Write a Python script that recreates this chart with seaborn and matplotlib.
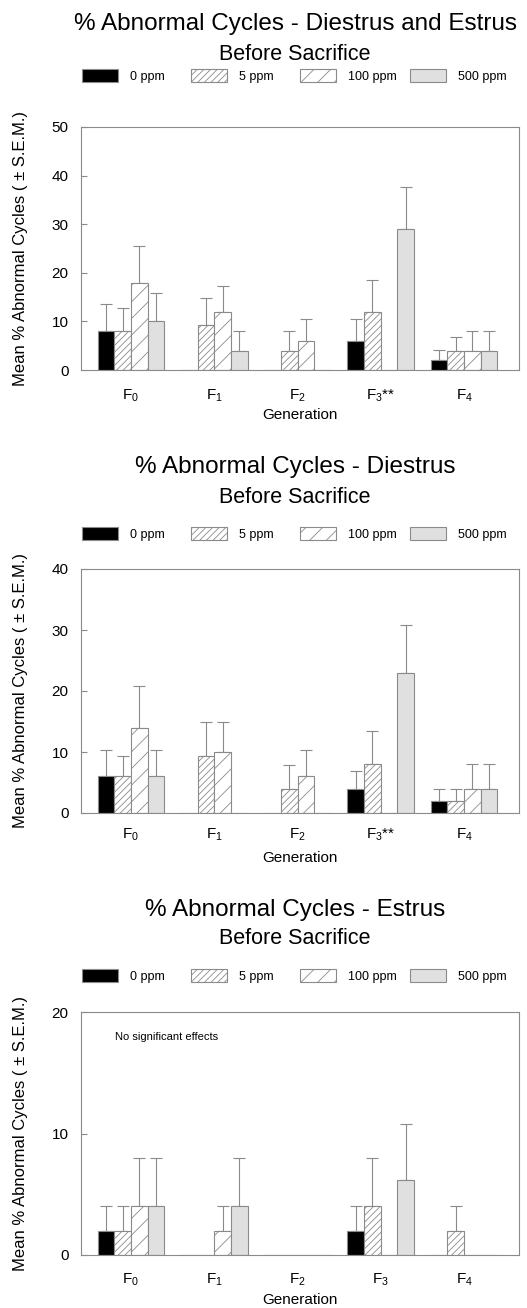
import numpy as np
import pandas as pd
import matplotlib
matplotlib.use("Agg")
import matplotlib.pyplot as plt
import seaborn as sns

# ---------------- data ----------------
generations = ["F0", "F1", "F2", "F3", "F4"]
doses = ["0 ppm", "5 ppm", "100 ppm", "500 ppm"]

# Panel 1: Diestrus and Estrus
p1_mean = {
    "0 ppm":   [8.0, 0.0, 0.0, 6.0, 2.0],
    "5 ppm":   [8.0, 9.3, 4.0, 12.0, 4.0],
    "100 ppm": [18.0, 12.0, 6.0, 0.0, 4.0],
    "500 ppm": [10.0, 4.0, 0.0, 29.1, 4.0],
}
p1_top = {
    "0 ppm":   [13.6, 0.0, 0.0, 10.4, 4.1],
    "5 ppm":   [12.7, 14.9, 8.0, 18.6, 6.8],
    "100 ppm": [25.6, 17.3, 10.4, 0.0, 8.0],
    "500 ppm": [15.8, 8.0, 0.0, 37.7, 8.0],
}
# Panel 2: Diestrus
p2_mean = {
    "0 ppm":   [6.0, 0.0, 0.0, 4.0, 2.0],
    "5 ppm":   [6.0, 9.4, 4.0, 8.0, 2.0],
    "100 ppm": [14.0, 10.0, 6.0, 0.0, 4.0],
    "500 ppm": [6.0, 0.0, 0.0, 22.9, 4.0],
}
p2_top = {
    "0 ppm":   [10.4, 0.0, 0.0, 6.85, 4.0],
    "5 ppm":   [9.3, 15.0, 7.9, 13.5, 4.0],
    "100 ppm": [20.8, 15.0, 10.4, 0.0, 8.0],
    "500 ppm": [10.4, 0.0, 0.0, 30.85, 8.0],
}
# Panel 3: Estrus
p3_mean = {
    "0 ppm":   [2.0, 0.0, 0.0, 2.0, 0.0],
    "5 ppm":   [2.0, 0.0, 0.0, 4.0, 2.0],
    "100 ppm": [4.0, 2.0, 0.0, 0.0, 0.0],
    "500 ppm": [4.0, 4.0, 0.0, 6.2, 0.0],
}
p3_top = {
    "0 ppm":   [4.0, 0.0, 0.0, 4.0, 0.0],
    "5 ppm":   [4.0, 0.0, 0.0, 8.0, 4.0],
    "100 ppm": [8.0, 4.0, 0.0, 0.0, 0.0],
    "500 ppm": [8.0, 8.0, 0.0, 10.8, 0.0],
}

titles = ["% Abnormal Cycles - Diestrus and Estrus",
          "% Abnormal Cycles - Diestrus",
          "% Abnormal Cycles - Estrus"]
subtitle = "Before Sacrifice"
tick_labels_sig = ["F$_0$", "F$_1$", "F$_2$", "F$_3$**", "F$_4$"]
tick_labels_ns = ["F$_0$", "F$_1$", "F$_2$", "F$_3$", "F$_4$"]
ylabel = "Mean % Abnormal Cycles ( \u00b1 S.E.M.)"
xlabel = "Generation"
y_max = [50, 40, 20]
y_ticks = [[0, 10, 20, 30, 40, 50], [0, 10, 20, 30, 40], [0, 10, 20]]

# ---------------- style ----------------
sns.set_theme(style="white")
plt.rcParams["font.family"] = ["Liberation Sans", "DejaVu Sans"]
plt.rcParams["mathtext.fontset"] = "custom"
plt.rcParams["mathtext.rm"] = "Liberation Sans"
plt.rcParams["mathtext.it"] = "Liberation Sans"
plt.rcParams["mathtext.bf"] = "Liberation Sans"
plt.rcParams["hatch.linewidth"] = 0.6
plt.rcParams["hatch.color"] = "#7a7a7a"
plt.rcParams["text.color"] = "black"
plt.rcParams["axes.labelcolor"] = "black"
plt.rcParams["xtick.color"] = "black"
plt.rcParams["ytick.color"] = "black"
plt.rcParams["xtick.labelcolor"] = "black"
plt.rcParams["ytick.labelcolor"] = "black"

GRAY = "#8a8a8a"
palette = {"0 ppm": "black", "5 ppm": "white", "100 ppm": "white", "500 ppm": "#e0e0e0"}
hatches = {"0 ppm": "", "5 ppm": "/////", "100 ppm": "//", "500 ppm": ""}

W, H = 527, 1308
fig = plt.figure(figsize=(W / 100, H / 100), dpi=100)

# pixel geometry of the three panels
ax_left, ax_right = 81, 519
panel_top = [127, 569, 1012]
panel_bot = [370, 813, 1255]
title_y = [24, 467, 910]
sub_y = [55, 497, 939]
legend_y = [76, 534, 976]
legend_x = [82, 191, 300, 410]
xtick_pad = [13, 10, 12]

means = [p1_mean, p2_mean, p3_mean]
tops = [p1_top, p2_top, p3_top]
xticklabels = [tick_labels_sig, tick_labels_sig, tick_labels_ns]

for k in range(3):
    rect = [ax_left / W, 1 - panel_bot[k] / H,
            (ax_right - ax_left) / W, (panel_bot[k] - panel_top[k]) / H]
    ax = fig.add_axes(rect)

    rows = []
    for d in doses:
        for g, v in zip(generations, means[k][d]):
            rows.append({"Generation": g, "Dose": d, "Value": v})
    df = pd.DataFrame(rows)

    sns.barplot(data=df, x="Generation", y="Value", hue="Dose",
                order=generations, hue_order=doses, palette=palette,
                saturation=1, errorbar=None, width=0.8, legend=False, ax=ax)

    handles = []
    for d, cont in zip(doses, ax.containers):
        for p in cont.patches:
            p.set_edgecolor(GRAY)
            p.set_linewidth(0.8)
            p.set_hatch(hatches[d])
            p.set_zorder(2)
        handles.append(cont.patches[0])
        xs, ms, es = [], [], []
        for p, m, t in zip(cont.patches, means[k][d], tops[k][d]):
            if t > m:
                xs.append(p.get_x() + p.get_width() / 2)
                ms.append(m)
                es.append(t - m)
        if xs:
            ax.errorbar(xs, ms, yerr=[np.zeros(len(es)), es], fmt="none",
                        ecolor=GRAY, elinewidth=0.8, capsize=4.3,
                        capthick=0.8, zorder=1)

    ax.set_xlim(-0.60, 4.66)
    ax.set_ylim(0, y_max[k])
    ax.set_yticks(y_ticks[k])
    ax.set_yticklabels([str(t) for t in y_ticks[k]], fontsize=11)
    ax.set_xticks(range(5))
    ax.set_xticklabels(xticklabels[k], fontsize=11)
    ax.tick_params(axis="y", direction="in", length=4.5, width=0.8,
                   color=GRAY, labelcolor="black", pad=9, left=True)
    ax.tick_params(axis="x", length=0, pad=xtick_pad[k], labelcolor="black")
    for s in ax.spines.values():
        s.set_color(GRAY)
        s.set_linewidth(0.8)
        s.set_visible(True)
    ax.set_xlabel(xlabel, fontsize=11, color="black")
    ax.set_ylabel(ylabel, fontsize=12, color="black")
    ax.xaxis.set_label_coords(0.5, -45 / (panel_bot[k] - panel_top[k]))
    ax.xaxis.label.set_va("center")
    ax.yaxis.set_label_coords(-(81 - 28) / (ax_right - ax_left), 0.5)

    if k == 2:
        ax.text((115 - ax_left) / (ax_right - ax_left),
                (panel_bot[k] - 1037) / (panel_bot[k] - panel_top[k]),
                "No significant effects", fontsize=8, ha="left", va="center",
                color="black", transform=ax.transAxes)

    fig.text(295 / W, 1 - title_y[k] / H, titles[k], fontsize=17.5,
             ha="center", va="center", color="black")
    fig.text(295 / W, 1 - sub_y[k] / H, subtitle, fontsize=15.5,
             ha="center", va="center", color="black")

    for d, h, lx in zip(doses, handles, legend_x):
        leg = fig.legend([h], [d], loc="center left",
                         bbox_to_anchor=(lx / W, 1 - legend_y[k] / H),
                         frameon=False, fontsize=9, borderpad=0, borderaxespad=0,
                         handlelength=2.88, handleheight=1.22, handletextpad=0.96)
        for t in leg.get_texts():
            t.set_color("black")

fig.savefig("out.png", dpi=100)
